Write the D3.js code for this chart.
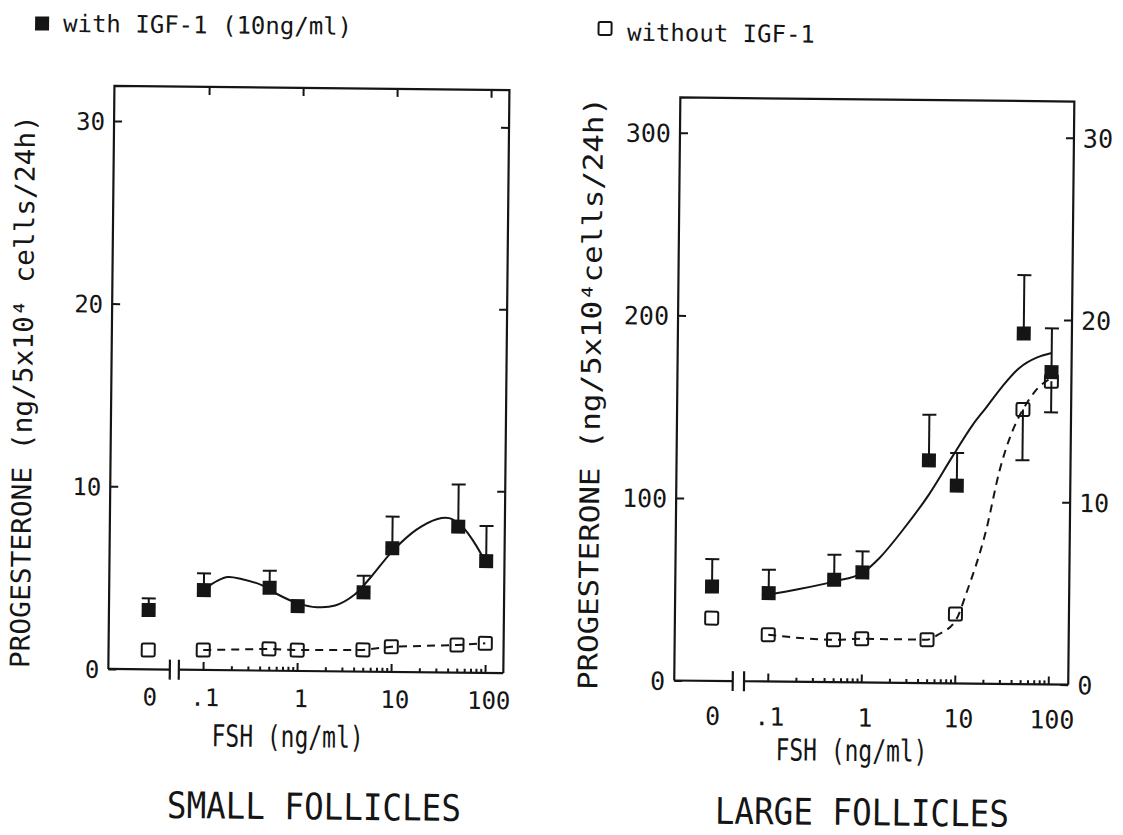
<!DOCTYPE html>
<html><head><meta charset="utf-8">
<script src="https://cdn.jsdelivr.net/npm/d3@7"></script>
<style>
html,body{margin:0;background:#fff;}
svg{display:block;background:#fff;}
text{font-family:"DejaVu Sans Mono","Liberation Mono",monospace;fill:#151515;}
</style>
</head><body>
<svg id="c" width="1123" height="835"></svg>
<script>
// ---------------- data ----------------
const doses = [0, 0.1, 0.5, 1, 5, 10, 50, 100];           // FSH ng/ml (0 = control, left of the axis break)

// SMALL FOLLICLES (ng/5x10^4 cells/24h)
const smallWithIGF      = [3.25, 4.37, 4.54, 3.55, 4.34, 6.77, 7.99, 6.12];
const smallWithIGFErr   = [0.64, 0.92, 0.93, 0, 0.91, 1.73, 2.31, 1.92];
const smallWithoutIGF   = [1.06, 1.09, 1.19, 1.14, 1.19, 1.38, 1.51, 1.62];
// fitted curve drawn through the "with IGF-1" points
const smallFitDose  = [0.1, 0.14, 0.18, 0.25, 0.4, 0.6, 1, 1.6, 2.5, 4, 6, 10, 18, 30, 40, 55, 75, 100];
const smallFitValue = [4.4, 4.9, 5.1, 5.0, 4.7, 4.2, 3.7, 3.5, 3.6, 4.2, 5.2, 6.6, 7.8, 8.4, 8.45, 8.0, 7.1, 6.0];

// LARGE FOLLICLES (ng/5x10^4 cells/24h)
const largeWithIGF          = [51.7, 48.4, 56.1, 60.3, 122, 108.3, 192, 171];
const largeWithIGFErr       = [15, 12.8, 13.7, 11.5, 25, 17.9, 32, 24];
const largeWithoutIGF       = [34.4, 25.6, 23.2, 23.9, 23.8, 38, 150.4, 166];
const largeWithoutIGFErrDown= [0, 0, 0, 0, 0, 0, 27.8, 17];
const largeFitDose   = [0.1, 0.2, 0.5, 1, 1.5, 2.7, 5, 9, 14.7, 20, 30, 45, 70, 100];
const largeFitValue  = [47.5, 50.5, 55.2, 60, 68, 84, 103, 124.6, 142, 151, 163, 173, 179, 181.5];
const largeDashDose  = [0.1, 0.5, 1, 5, 6.5, 10.2, 13, 20.9, 28.6, 44, 50, 66, 100];
const largeDashValue = [25.6, 23.2, 23.9, 23.8, 26.5, 35, 49.5, 84.4, 117, 145, 150.4, 160, 168];

// ticks / labels
const xTickValues = [0, 0.1, 1, 10, 100];
const xTickLabels = ["0", ".1", "1", "10", "100"];
const xMinorTicks = [0.2,0.3,0.4,0.5,0.6,0.7,0.8,0.9,2,3,4,5,6,7,8,9,20,30,40,50,60,70,80,90];
const smallYTicks = [0, 10, 20, 30];
const largeYTicks = [0, 100, 200, 300];
const largeY2Ticks = [0, 10, 20, 30];

const legendLabels = ["with IGF-1 (10ng/ml)", "without IGF-1"];
const xTitle = "FSH (ng/ml)";
const panelTitles = ["SMALL FOLLICLES", "LARGE FOLLICLES"];
const yTitles = ["PROGESTERONE (ng/5x10\u2074 cells/24h)", "PROGESTERONE (ng/5x10\u2074cells/24h)"];

// ---------------- drawing ----------------
const INK = "#151515";
const svg = d3.select("#c");
const root = svg.append("g").attr("transform", "rotate(0.6,561,417)");

function styleAxis(sel) {
  sel.select(".domain").remove();
  sel.selectAll(".tick line").attr("stroke", INK).attr("stroke-width", 2);
  sel.selectAll(".tick text").style("font-family", '"DejaVu Sans Mono", monospace').attr("fill", INK);
}

function drawPanel(p) {
  const g = root.append("g");
  const xLog = d3.scaleLog().domain([0.1, 100]).range([p.x01, p.x100]);
  const xPos = d => d === 0 ? p.zeroX : xLog(d);
  const y = d3.scaleLinear().domain([0, p.yMax]).range([p.bottom, p.yTopPx]);

  // frame (left, top, right)
  g.append("path")
    .attr("d", `M${p.left},${p.bottom}V${p.top}H${p.right}V${p.bottom}`)
    .attr("fill", "none").attr("stroke", INK).attr("stroke-width", 2.2);
  // bottom axis with break
  g.append("line").attr("x1", p.left).attr("x2", p.break1).attr("y1", p.bottom).attr("y2", p.bottom)
    .attr("stroke", INK).attr("stroke-width", 2.2);
  g.append("line").attr("x1", p.break2).attr("x2", p.right).attr("y1", p.bottom).attr("y2", p.bottom)
    .attr("stroke", INK).attr("stroke-width", 2.2);
  [p.break1, p.break2].forEach(bx => {
    g.append("line").attr("x1", bx).attr("x2", bx).attr("y1", p.bottom - 10).attr("y2", p.bottom + 10)
      .attr("stroke", INK).attr("stroke-width", 2.2);
  });

  // bottom ticks (inward)
  const bMinor = g.append("g").attr("transform", `translate(0,${p.bottom})`)
    .call(d3.axisBottom(xLog).tickValues(xMinorTicks).tickSize(-4).tickFormat(""));
  styleAxis(bMinor);
  const bMajor = g.append("g").attr("transform", `translate(0,${p.bottom})`)
    .call(d3.axisBottom(xLog).tickValues([0.1, 1, 10, 100]).tickSize(-8).tickFormat(""));
  styleAxis(bMajor);
  if (p.topTicks) {
    const tMajor = g.append("g").attr("transform", `translate(0,${p.top})`)
      .call(d3.axisTop(xLog).tickValues([0.1, 1, 10, 100]).tickSize(-8).tickFormat(""));
    styleAxis(tMajor);
  }
  // x tick labels
  g.selectAll("text.xl").data(xTickValues).join("text").attr("class", "xl")
    .attr("x", d => xPos(d) + (d >= 1 ? 4 : 2))
    .attr("y", p.bottom + p.xLabelOffset)
    .attr("text-anchor", "middle")
    .style("font-size", p.tickFont + "px")
    .text((d, i) => xTickLabels[i]);

  // left y axis
  const ly = g.append("g").attr("transform", `translate(${p.left},0)`)
    .call(d3.axisLeft(y).tickValues(p.yTicks).tickSize(-8).tickPadding(9).tickFormat(d3.format("d")));
  styleAxis(ly);
  ly.selectAll(".tick text").style("font-size", p.tickFont + "px").attr("dy", "0.36em");
  // right y axis
  const y2 = d3.scaleLinear().domain([0, p.y2Max]).range([p.bottom, p.yTopPx2]);
  const ry = g.append("g").attr("transform", `translate(${p.right},0)`)
    .call(d3.axisRight(y2).tickValues(p.y2Ticks).tickSize(-8).tickPadding(9)
      .tickFormat(p.y2Labels ? d3.format("d") : ""));
  styleAxis(ry);
  ry.selectAll(".tick text").style("font-size", p.tickFont + "px").attr("dy", "0.36em");

  // curves
  const fitLine = d3.line().x(d => xPos(d[0])).y(d => y(d[1])).curve(p.fitCurve);
  g.append("path").datum(d3.zip(p.fitDose, p.fitValue)).attr("d", fitLine)
    .attr("fill", "none").attr("stroke", INK).attr("stroke-width", 2);
  const dashLine = d3.line().x(d => xPos(d[0])).y(d => y(d[1])).curve(p.dashCurve);
  g.append("path").datum(d3.zip(p.dashDose, p.dashValue)).attr("d", dashLine)
    .attr("fill", "none").attr("stroke", INK).attr("stroke-width", 2).attr("stroke-dasharray", "8,6");

  // error bars for "with" (upwards)
  const withData = doses.map((d, i) => ({d, v: p.withV[i], e: p.withE[i]}));
  const eb = withData.filter(o => o.e > 0);
  g.selectAll("line.ebw").data(eb).join("line").attr("class", "ebw")
    .attr("x1", o => xPos(o.d)).attr("x2", o => xPos(o.d))
    .attr("y1", o => y(o.v)).attr("y2", o => y(o.v + o.e))
    .attr("stroke", INK).attr("stroke-width", 2);
  g.selectAll("line.ebwc").data(eb).join("line").attr("class", "ebwc")
    .attr("x1", o => xPos(o.d) - 7).attr("x2", o => xPos(o.d) + 7)
    .attr("y1", o => y(o.v + o.e)).attr("y2", o => y(o.v + o.e))
    .attr("stroke", INK).attr("stroke-width", 2);
  // error bars for "without" (downwards)
  if (p.withoutEDown) {
    const ed = doses.map((d, i) => ({d, v: p.withoutV[i], e: p.withoutEDown[i]})).filter(o => o.e > 0);
    g.selectAll("line.ebo").data(ed).join("line").attr("class", "ebo")
      .attr("x1", o => xPos(o.d)).attr("x2", o => xPos(o.d))
      .attr("y1", o => y(o.v)).attr("y2", o => y(o.v - o.e))
      .attr("stroke", INK).attr("stroke-width", 2);
    g.selectAll("line.eboc").data(ed).join("line").attr("class", "eboc")
      .attr("x1", o => xPos(o.d) - 7).attr("x2", o => xPos(o.d) + 7)
      .attr("y1", o => y(o.v - o.e)).attr("y2", o => y(o.v - o.e))
      .attr("stroke", INK).attr("stroke-width", 2);
  }
  // filled squares
  g.selectAll("rect.fw").data(withData).join("rect").attr("class", "fw")
    .attr("x", o => xPos(o.d) - 7).attr("y", o => y(o.v) - 7)
    .attr("width", 14).attr("height", 14).attr("fill", INK);
  // open squares
  const woData = doses.map((d, i) => ({d, v: p.withoutV[i]}));
  g.selectAll("rect.ow").data(woData).join("rect").attr("class", "ow")
    .attr("x", o => xPos(o.d) - 6.5).attr("y", o => y(o.v) - 6.5)
    .attr("width", 13).attr("height", 13).attr("rx", 1.5)
    .attr("fill", "none").attr("stroke", INK).attr("stroke-width", 2);

  // titles
  g.append("text").attr("transform", `translate(${p.xTitleX},${p.xTitleY}) scale(1,1.08)`)
    .attr("text-anchor", "middle")
    .style("font-size", "28px").attr("textLength", 152).attr("lengthAdjust", "spacingAndGlyphs")
    .text(xTitle);
  g.append("text").attr("transform", `translate(${p.titleX},822) scale(1,1.22)`)
    .attr("text-anchor", "middle")
    .style("font-size", "30px").attr("textLength", 294).attr("lengthAdjust", "spacingAndGlyphs")
    .text(p.title);
  g.append("text").attr("transform", `translate(${p.yTitleX},${p.yTitleStart}) rotate(-90)`)
    .attr("text-anchor", "start")
    .style("font-size", "27px").attr("textLength", p.yTitleLen).attr("lengthAdjust", "spacingAndGlyphs")
    .text(p.yTitle);
}

drawPanel({
  left: 111, right: 506, top: 90.6, bottom: 673.7,
  x01: 205.7, x100: 487.7, zeroX: 150.7, break1: 172.5, break2: 181.5,
  yMax: 30, yTopPx: 125.6, yTicks: smallYTicks,
  y2Max: 30, yTopPx2: 128, y2Ticks: [10, 20, 30], y2Labels: false,
  topTicks: true, tickFont: 24, xLabelOffset: 36,
  withV: smallWithIGF, withE: smallWithIGFErr, withoutV: smallWithoutIGF, withoutEDown: null,
  fitDose: smallFitDose, fitValue: smallFitValue, fitCurve: d3.curveCatmullRom.alpha(0.5),
  dashDose: doses.slice(1), dashValue: smallWithoutIGF.slice(1), dashCurve: d3.curveLinear,
  xTitleX: 291, xTitleY: 750, titleX: 318, title: panelTitles[0],
  yTitleX: 32, yTitleStart: 673.7, yTitleLen: 553, yTitle: yTitles[0]
});

drawPanel({
  left: 677, right: 1071, top: 96.2, bottom: 679.3,
  x01: 770.5, x100: 1051, zeroX: 713.8, break1: 735.5, break2: 746.8,
  yMax: 300, yTopPx: 131.5, yTicks: largeYTicks,
  y2Max: 30, yTopPx2: 132.5, y2Ticks: largeY2Ticks, y2Labels: true,
  topTicks: false, tickFont: 25, xLabelOffset: 44,
  withV: largeWithIGF, withE: largeWithIGFErr, withoutV: largeWithoutIGF, withoutEDown: largeWithoutIGFErrDown,
  fitDose: largeFitDose, fitValue: largeFitValue, fitCurve: d3.curveMonotoneX,
  dashDose: largeDashDose, dashValue: largeDashValue, dashCurve: d3.curveMonotoneX,
  xTitleX: 855, xTitleY: 758, titleX: 866, title: panelTitles[1],
  yTitleX: 600, yTitleStart: 689.7, yTitleLen: 593, yTitle: yTitles[1]
});

// legend
root.append("rect").attr("x", 31).attr("y", 22).attr("width", 14).attr("height", 14).attr("fill", INK);
root.append("text").attr("x", 59).attr("y", 37).style("font-size", "24px").text(legendLabels[0]);
root.append("rect").attr("x", 594.5).attr("y", 21.5).attr("width", 13).attr("height", 13).attr("rx", 1.5)
  .attr("fill", "none").attr("stroke", INK).attr("stroke-width", 2);
root.append("text").attr("x", 623).attr("y", 40).style("font-size", "24px").text(legendLabels[1]);
</script>
</body></html>
